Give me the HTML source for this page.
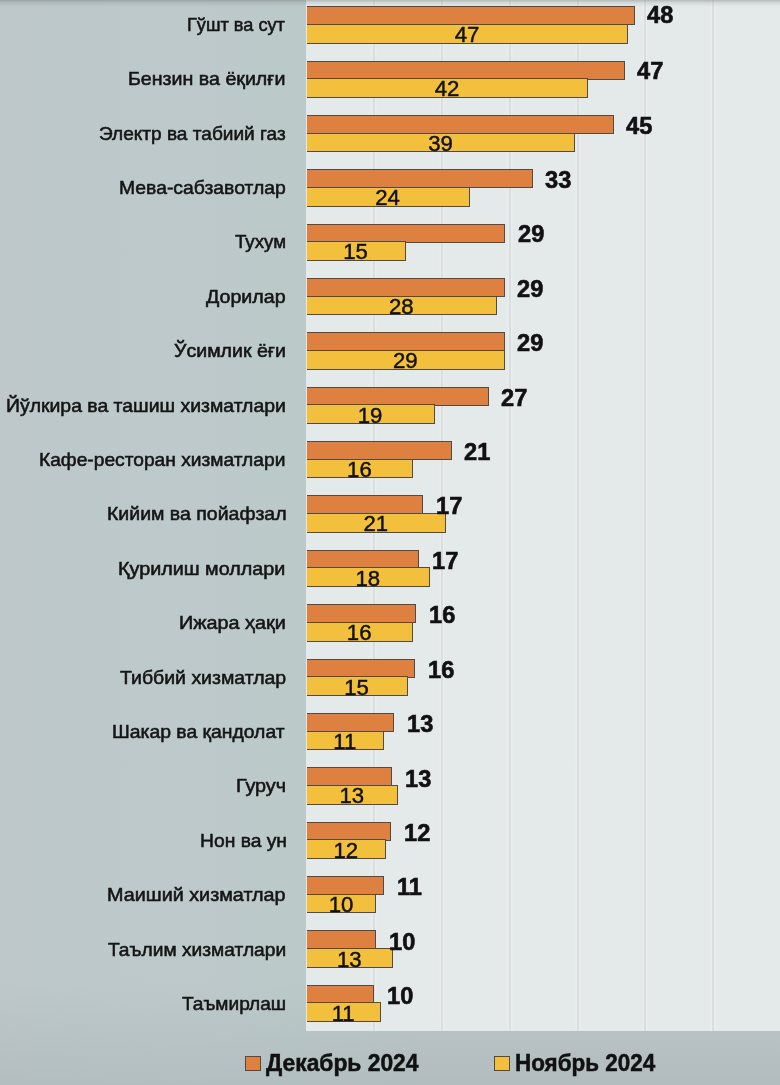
<!DOCTYPE html>
<html><head><meta charset="utf-8"><style>
*{margin:0;padding:0;box-sizing:border-box}
html,body{width:780px;height:1085px;overflow:hidden}
body{position:relative;background:linear-gradient(rgba(110,120,125,0) 0,rgba(110,120,125,0) 980px,rgba(110,120,125,0.13) 1085px),linear-gradient(90deg,#bec8cb 0,#bdc9ca 180px,#bcc9c9 300px,#bdc7c9 420px,#bdc6c8 780px);font-family:"Liberation Sans",sans-serif;color:#151515}
.a{position:absolute}
#w{position:absolute;left:0;top:0;width:780px;height:1085px;filter:blur(0.4px)}
.plot{left:306px;top:0;width:474px;height:1030.5px;background:#e4e9e9}
.g{top:0;width:6px;height:1030.5px;background:linear-gradient(90deg,rgba(236,240,240,0) 0,#eaeeee 30%,#d9dddd 40%,#d9dddd 65%,#eaeeee 75%,rgba(236,240,240,0) 100%)}
.lb{font-size:18.5px;line-height:1;white-space:nowrap;transform-origin:0 0;-webkit-text-stroke:0.55px #151515}
.bo,.by{border:1.4px solid #514a45;border-left:0}
.bo{background:#de8140}
.by{background:#f3c03d}
.vb{font-weight:bold;font-size:23.2px;line-height:1;white-space:nowrap;color:#111;transform-origin:0 0;transform:scaleX(1.02);-webkit-text-stroke:0.6px #111}
.vr{font-size:22.2px;line-height:1;white-space:nowrap;color:#111;transform-origin:0 0;transform:scaleX(1.0);-webkit-text-stroke:0.45px #111}
.lg{font-weight:bold;font-size:23.0px;line-height:1;white-space:nowrap;color:#111;transform-origin:0 0;-webkit-text-stroke:0.5px #111}
</style></head><body><div id="w">
<div class="a plot"></div>

<div class="a g" style="left:371.40px"></div>
<div class="a g" style="left:439.10px"></div>
<div class="a g" style="left:506.80px"></div>
<div class="a g" style="left:574.50px"></div>
<div class="a g" style="left:642.20px"></div>
<div class="a g" style="left:709.90px"></div>
<div class="a" style="left:0;top:0;width:780px;height:7px;background:linear-gradient(rgba(90,95,100,0.35),rgba(90,95,100,0.12) 40%,rgba(90,95,100,0))"></div>
<div class="a lb" style="left:187.02px;top:15.74px;transform:scaleX(0.9811)">Гўшт ва сут</div>
<div class="a lb" style="left:128.34px;top:70.14px;transform:scaleX(1.0603)">Бензин ва ёқилғи</div>
<div class="a lb" style="left:99.20px;top:124.54px;transform:scaleX(1.0302)">Электр ва табиий газ</div>
<div class="a lb" style="left:118.95px;top:178.94px;transform:scaleX(1.0460)">Мева-сабзавотлар</div>
<div class="a lb" style="left:235.10px;top:233.34px;transform:scaleX(1.0100)">Тухум</div>
<div class="a lb" style="left:206.10px;top:287.74px;transform:scaleX(1.0611)">Дорилар</div>
<div class="a lb" style="left:173.90px;top:342.14px;transform:scaleX(1.0573)">Ўсимлик ёғи</div>
<div class="a lb" style="left:5.85px;top:396.54px;transform:scaleX(1.0495)">Йўлкира ва ташиш хизматлари</div>
<div class="a lb" style="left:39.36px;top:450.94px;transform:scaleX(1.0374)">Кафе-ресторан хизматлари</div>
<div class="a lb" style="left:106.65px;top:505.34px;transform:scaleX(1.0539)">Кийим ва пойафзал</div>
<div class="a lb" style="left:118.43px;top:559.74px;transform:scaleX(1.0681)">Қурилиш моллари</div>
<div class="a lb" style="left:179.03px;top:614.14px;transform:scaleX(1.0711)">Ижара ҳақи</div>
<div class="a lb" style="left:119.50px;top:668.54px;transform:scaleX(1.0524)">Тиббий хизматлар</div>
<div class="a lb" style="left:112.25px;top:722.94px;transform:scaleX(1.0464)">Шакар ва қандолат</div>
<div class="a lb" style="left:236.03px;top:777.34px;transform:scaleX(1.0697)">Гуруч</div>
<div class="a lb" style="left:199.66px;top:831.74px;transform:scaleX(1.0418)">Нон ва ун</div>
<div class="a lb" style="left:107.13px;top:886.14px;transform:scaleX(1.0694)">Маиший хизматлар</div>
<div class="a lb" style="left:107.60px;top:940.54px;transform:scaleX(1.0373)">Таълим хизматлари</div>
<div class="a lb" style="left:182.10px;top:994.94px;transform:scaleX(1.0318)">Таъмирлаш</div>
<div class="a bo" style="left:307.0px;top:6.20px;width:327.60px;height:19.05px"></div>
<div class="a by" style="left:307.0px;top:23.85px;width:320.70px;height:19.75px"></div>
<div class="a bo" style="left:307.0px;top:60.56px;width:317.60px;height:19.05px"></div>
<div class="a by" style="left:307.0px;top:78.21px;width:280.70px;height:19.75px"></div>
<div class="a bo" style="left:307.0px;top:114.92px;width:306.80px;height:19.05px"></div>
<div class="a by" style="left:307.0px;top:132.57px;width:267.60px;height:19.75px"></div>
<div class="a bo" style="left:307.0px;top:169.28px;width:225.60px;height:19.05px"></div>
<div class="a by" style="left:307.0px;top:186.93px;width:162.70px;height:19.75px"></div>
<div class="a bo" style="left:307.0px;top:223.64px;width:198.10px;height:19.05px"></div>
<div class="a by" style="left:307.0px;top:241.29px;width:98.60px;height:19.75px"></div>
<div class="a bo" style="left:307.0px;top:278.00px;width:197.90px;height:19.05px"></div>
<div class="a by" style="left:307.0px;top:295.65px;width:189.90px;height:19.75px"></div>
<div class="a bo" style="left:307.0px;top:332.36px;width:198.00px;height:19.05px"></div>
<div class="a by" style="left:307.0px;top:350.01px;width:197.90px;height:19.75px"></div>
<div class="a bo" style="left:307.0px;top:386.72px;width:182.00px;height:19.05px"></div>
<div class="a by" style="left:307.0px;top:404.37px;width:127.60px;height:19.75px"></div>
<div class="a bo" style="left:307.0px;top:441.08px;width:145.00px;height:19.05px"></div>
<div class="a by" style="left:307.0px;top:458.73px;width:106.30px;height:19.75px"></div>
<div class="a bo" style="left:307.0px;top:495.44px;width:115.80px;height:19.05px"></div>
<div class="a by" style="left:307.0px;top:513.09px;width:138.90px;height:19.75px"></div>
<div class="a bo" style="left:307.0px;top:549.80px;width:112.20px;height:19.05px"></div>
<div class="a by" style="left:307.0px;top:567.45px;width:123.00px;height:19.75px"></div>
<div class="a bo" style="left:307.0px;top:604.16px;width:108.90px;height:19.05px"></div>
<div class="a by" style="left:307.0px;top:621.81px;width:105.80px;height:19.75px"></div>
<div class="a bo" style="left:307.0px;top:658.52px;width:108.40px;height:19.05px"></div>
<div class="a by" style="left:307.0px;top:676.17px;width:100.70px;height:19.75px"></div>
<div class="a bo" style="left:307.0px;top:712.88px;width:86.60px;height:19.05px"></div>
<div class="a by" style="left:307.0px;top:730.53px;width:77.10px;height:19.75px"></div>
<div class="a bo" style="left:307.0px;top:767.24px;width:84.80px;height:19.05px"></div>
<div class="a by" style="left:307.0px;top:784.89px;width:90.90px;height:19.75px"></div>
<div class="a bo" style="left:307.0px;top:821.60px;width:83.50px;height:19.05px"></div>
<div class="a by" style="left:307.0px;top:839.25px;width:79.20px;height:19.75px"></div>
<div class="a bo" style="left:307.0px;top:875.96px;width:77.10px;height:19.05px"></div>
<div class="a by" style="left:307.0px;top:893.61px;width:69.40px;height:19.75px"></div>
<div class="a bo" style="left:307.0px;top:930.32px;width:69.20px;height:19.05px"></div>
<div class="a by" style="left:307.0px;top:947.97px;width:86.10px;height:19.75px"></div>
<div class="a bo" style="left:307.0px;top:984.68px;width:67.40px;height:19.05px"></div>
<div class="a by" style="left:307.0px;top:1002.33px;width:73.80px;height:19.75px"></div>
<div class="a vb" style="left:647.00px;top:4.16px">48</div>
<div class="a vr" style="left:454.78px;top:23.81px">47</div>
<div class="a vb" style="left:637.00px;top:60.12px">47</div>
<div class="a vr" style="left:434.78px;top:78.20px">42</div>
<div class="a vb" style="left:626.20px;top:114.54px">45</div>
<div class="a vr" style="left:428.23px;top:132.60px">39</div>
<div class="a vb" style="left:545.00px;top:168.96px">33</div>
<div class="a vr" style="left:375.28px;top:186.99px">24</div>
<div class="a vb" style="left:517.50px;top:223.38px">29</div>
<div class="a vr" style="left:343.23px;top:241.39px">15</div>
<div class="a vb" style="left:517.30px;top:277.80px">29</div>
<div class="a vr" style="left:388.88px;top:295.78px">28</div>
<div class="a vb" style="left:517.40px;top:332.22px">29</div>
<div class="a vr" style="left:392.88px;top:350.18px">29</div>
<div class="a vb" style="left:501.40px;top:386.64px">27</div>
<div class="a vr" style="left:357.73px;top:404.57px">19</div>
<div class="a vb" style="left:464.40px;top:441.06px">21</div>
<div class="a vr" style="left:347.08px;top:458.97px">16</div>
<div class="a vb" style="left:435.88px;top:495.48px">17</div>
<div class="a vr" style="left:363.38px;top:513.36px">21</div>
<div class="a vb" style="left:432.28px;top:549.90px">17</div>
<div class="a vr" style="left:355.43px;top:567.76px">18</div>
<div class="a vb" style="left:428.98px;top:604.32px">16</div>
<div class="a vr" style="left:346.83px;top:622.15px">16</div>
<div class="a vb" style="left:428.48px;top:658.74px">16</div>
<div class="a vr" style="left:344.28px;top:676.55px">15</div>
<div class="a vb" style="left:406.68px;top:713.16px">13</div>
<div class="a vr" style="left:333.30px;top:730.94px">11</div>
<div class="a vb" style="left:404.88px;top:767.58px">13</div>
<div class="a vr" style="left:339.38px;top:785.34px">13</div>
<div class="a vb" style="left:403.58px;top:822.00px">12</div>
<div class="a vr" style="left:333.53px;top:839.73px">12</div>
<div class="a vb" style="left:397.18px;top:876.42px">11</div>
<div class="a vr" style="left:328.63px;top:894.13px">10</div>
<div class="a vb" style="left:389.28px;top:930.84px">10</div>
<div class="a vr" style="left:336.98px;top:948.52px">13</div>
<div class="a vb" style="left:387.48px;top:985.26px">10</div>
<div class="a vr" style="left:331.65px;top:1002.92px">11</div>
<div class="a" style="left:245.2px;top:1055.9px;width:16px;height:14.8px;background:#de8140;border:1.3px solid #514a45"></div>
<div class="a lg" style="left:266.30px;top:1052.43px;transform:scaleX(0.9921)">Декабрь 2024</div>
<div class="a" style="left:494px;top:1055.7px;width:15.6px;height:15px;background:#f3c03d;border:1.3px solid #514a45"></div>
<div class="a lg" style="left:515.02px;top:1052.13px;transform:scaleX(0.9753)">Ноябрь 2024</div>
</div></body></html>
